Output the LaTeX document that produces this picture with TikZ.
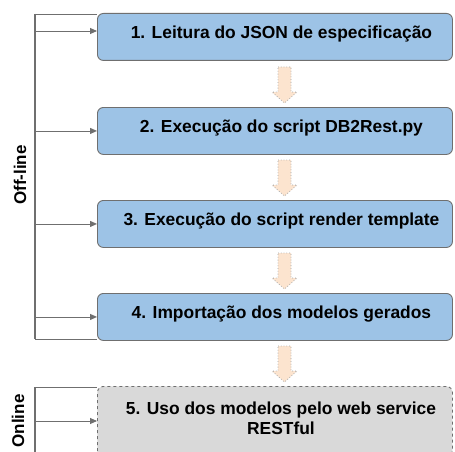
\documentclass[tikz,border=0pt]{standalone}
\usepackage{fontspec}
\setmainfont{Liberation Sans}
\usetikzlibrary{arrows.meta}
\definecolor{stepblue}{HTML}{9DC3E6}
\definecolor{stepgrey}{HTML}{D9D9D9}
\definecolor{edgegrey}{HTML}{6F6F6F}
\definecolor{flowpeach}{HTML}{FCE4CF}
\tikzset{
  stepbox/.style={draw=edgegrey, line width=0.9pt, rounded corners=6pt, fill=stepblue,
    minimum width=355pt, minimum height=47pt, anchor=north west, inner sep=0pt,
    text height=12.5pt, text depth=9.5pt,
    font=\bfseries\fontsize{17.4}{20}\selectfont,
    execute at begin node=\hspace*{13pt}},
  onlinebox/.style={draw=edgegrey, line width=0.9pt, rounded corners=6pt, fill=stepgrey,
    dashed, minimum width=355pt, minimum height=70pt, anchor=north west, inner sep=0pt,
    font=\bfseries\fontsize{17.4}{20}\selectfont, align=center},
  feed/.style={draw=edgegrey, line width=0.9pt, -{Triangle[length=7pt,width=6pt]}},
  rail/.style={draw=edgegrey, line width=2pt},
  tick/.style={draw=edgegrey, line width=0.9pt},
  flow/.style={draw=gray!70, fill=flowpeach, line width=0.8pt, dotted},
  phase/.style={rotate=90, font=\bfseries\fontsize{17}{20}\selectfont}
}
\begin{document}
\begin{tikzpicture}[x=1pt,y=-1pt]
\useasboundingbox (0,0) rectangle (455,452);
\clip (0,0) rectangle (455,452);
\fill[white] (0,0) rectangle (455,452);

% processing steps
\node[stepbox] (b1) at (97,13) {1. Leitura do JSON de especificação};
\node[stepbox] (b2) at (97,107) {2. Execução do script DB2Rest.py};
\node[stepbox] (b3) at (97,200) {3. Execução do script render template};
\node[stepbox] (b4) at (97,293) {4. Importação dos modelos gerados};
\node[onlinebox] (b5) at (97,386) {\hspace*{12pt}5. Uso dos modelos pelo web service\\\hspace*{12pt}RESTful\rule[-6pt]{0pt}{1pt}};

% block arrows between consecutive steps
\foreach \y in {67,160,253,346}{
  \draw[flow] (278,\y) -- (291,\y) -- (291,\y+25) -- (297,\y+25) -- (284.5,\y+36)
    -- (272,\y+25) -- (278,\y+25) -- cycle;
}

% off-line bracket
\coordinate (offtop) at (35,14);
\coordinate (offbot) at (35,339);
\draw[rail] (offtop) -- (offbot);
\draw[tick] (offtop) -- (b1.north west |- offtop);
\draw[tick] (offbot) -- (b4.west |- offbot);
\coordinate (f1) at (35,31);
\draw[feed] (f1) -- (b1.west |- f1);
\draw[feed] (offtop |- b2.west) -- (b2.west);
\draw[feed] (offtop |- b3.west) -- (b3.west);
\draw[feed] (offtop |- b4.west) -- (b4.west);
\node[phase] (offl) at (20,175) {Off-line};

% online bracket
\coordinate (ontop) at (35,387);
\coordinate (onbot) at (35,460);
\draw[rail] (ontop) -- (onbot);
\draw[tick] (ontop) -- (b5.west |- ontop);
\coordinate (f5) at (35,421);
\draw[feed] (f5) -- (b5.west |- f5);
\node[phase] (onl) at (18,421) {Online};
\end{tikzpicture}
\end{document}
